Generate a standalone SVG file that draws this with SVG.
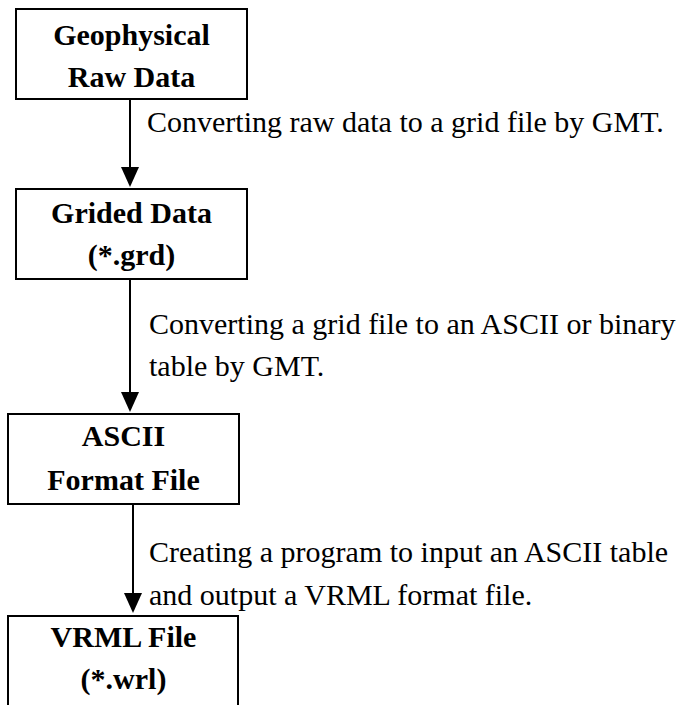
<svg xmlns="http://www.w3.org/2000/svg" width="682" height="705" viewBox="0 0 682 705">
<defs>
<style>
.box{fill:none;stroke:#000;stroke-width:2}
.nt{font-family:"Liberation Serif","Times New Roman",serif;font-weight:bold;font-size:30px;text-anchor:middle;fill:#000}
.lt{font-family:"Liberation Serif","Times New Roman",serif;font-size:30px;fill:#000}
.edge{stroke:#000;stroke-width:2;fill:none}
</style>
</defs>
<rect width="682" height="705" fill="#fff"/>
<g id="n1">
<rect class="box" x="16" y="9" width="231" height="90"/>
<text class="nt" x="131.5" y="45">Geophysical</text>
<text class="nt" x="131.5" y="87">Raw Data</text>
</g>
<g id="n2">
<rect class="box" x="16" y="189" width="231" height="90"/>
<text class="nt" x="131.5" y="223">Grided Data</text>
<text class="nt" x="131.5" y="265">(*.grd)</text>
</g>
<g id="n3">
<rect class="box" x="8" y="414" width="231" height="90"/>
<text class="nt" x="123.5" y="446">ASCII</text>
<text class="nt" x="123.5" y="490">Format File</text>
</g>
<g id="n4">
<path class="box" d="M8,705 V616 H238 V705"/>
<text class="nt" x="123.5" y="647">VRML File</text>
<text class="nt" x="123.5" y="689">(*.wrl)</text>
</g>
<g id="connectors">
<line class="edge" x1="130" y1="99" x2="130" y2="170"/>
<path d="M121,167 L139,167 L130,187 Z" fill="#000"/>
<line class="edge" x1="130" y1="279" x2="130" y2="395"/>
<path d="M121,392 L139,392 L130,412 Z" fill="#000"/>
<line class="edge" x1="133" y1="505" x2="133" y2="596"/>
<path d="M124,593 L142,593 L133,613 Z" fill="#000"/>
<text class="lt" x="147" y="132">Converting raw data to a grid file by GMT.</text>
<text class="lt" x="149" y="334">Converting a grid file to an ASCII or binary</text>
<text class="lt" x="149" y="376">table by GMT.</text>
<text class="lt" x="149" y="562">Creating a program to input an ASCII table</text>
<text class="lt" x="149" y="605">and output a VRML format file.</text>
</g>
</svg>
